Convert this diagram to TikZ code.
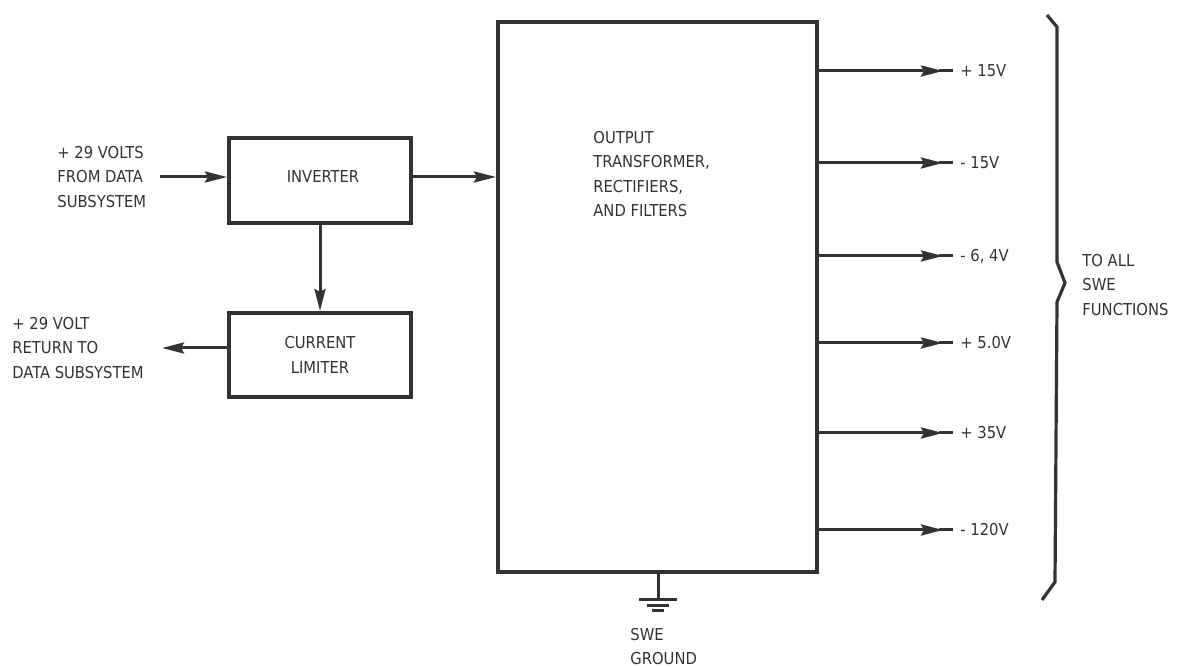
\documentclass[tikz,border=0pt]{standalone}
\usepackage{fontspec}
\setmainfont{DejaVu Sans Condensed}
\usetikzlibrary{arrows.meta}
\definecolor{ink}{HTML}{333333}
\begin{document}
\begin{tikzpicture}[x=0.5pt,y=-0.5pt,
  every node/.style={text=ink},
  blk/.style={draw=ink, line width=2pt, fill=white, inner sep=0pt},
  wire/.style={draw=ink, line width=1.5pt},
  arr/.style={wire, -{Stealth[length=11pt,width=5.5pt,inset=1.5pt]}},
  lbl/.style={font=\fontsize{8.2}{12.2}\selectfont, align=left, inner sep=0pt},
  outlbl/.style={lbl, anchor=west},
]
\useasboundingbox (0,0) rectangle (1178,667);

% blocks
\node[blk, minimum width=91pt, minimum height=42.5pt] (inv) at (320,180.5) {};
\node[lbl, align=center] (invt) at (323,177) {INVERTER};
\node[blk, minimum width=91pt, minimum height=42pt] (cl) at (320,355) {};
\node[lbl, align=center] (clt) at (320,355) {CURRENT\\LIMITER};
\node[blk, minimum width=159.5pt, minimum height=275pt] (big) at (657.5,297) {};
\node[lbl, anchor=north west] (bigt) at (593,131) {OUTPUT\\TRANSFORMER,\\RECTIFIERS,\\AND FILTERS};

% left labels
\node[lbl, anchor=west] (inl) at (57,177) {+ 29 VOLTS\\FROM DATA\\SUBSYSTEM};
\node[lbl, anchor=west] (retl) at (12,348) {+ 29 VOLT\\RETURN TO\\DATA SUBSYSTEM};

\coordinate (in1) at (160,177);
\coordinate (ret1) at (162,348);

\draw[arr] (in1) -- (in1 -| inv.west);
\draw[arr] (inv.east |- in1) -- (big.west |- in1);
\draw[arr] (inv.south) -- (cl.north);
\draw[arr] (cl.west |- ret1) -- (ret1);

% outputs
\foreach \y/\t [count=\i] in {71/{+ 15V}, 163/{- 15V}, 256/{- 6, 4V}, 343/{+ 5.0V}, 433/{+ 35V}, 530/{- 120V}}{
  \coordinate (o\i) at (953,\y);
  \coordinate (h\i) at (943,\y);
  \draw[arr] (big.east |- o\i) -- (h\i);
  \draw[wire] (h\i) ++(-4,0) -- (o\i);
  \node[outlbl] (ol\i) at (960,\y) {\t};
}

% brace
\draw[draw=ink, line width=1.6pt, line join=round]
  (1047,15) -- (1057,27) -- (1057,262) -- (1065,283) -- (1057,302)
  -- (1055,582) -- (1042,600);
\node[lbl, anchor=west] (tol) at (1082,285) {TO ALL\\SWE\\FUNCTIONS};

% ground
\coordinate (g) at (658,600);
\draw[wire] (big.south -| g) -- (g);
\draw[wire] (g) ++(-19,0) -- ++(38,0);
\draw[wire] (g) ++(-11,5.5) -- ++(22,0);
\draw[wire] (g) ++(-6,11) -- ++(12,0);
\node[lbl, anchor=north west] (gl) at (630,628) {SWE\\GROUND};
\end{tikzpicture}
\end{document}
